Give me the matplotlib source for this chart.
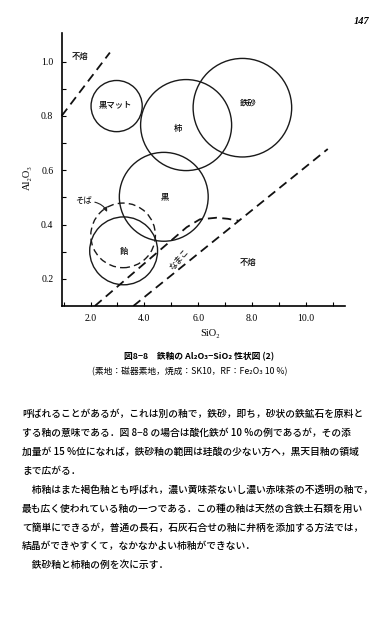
import matplotlib
matplotlib.use("Agg")
import matplotlib.pyplot as plt
from matplotlib.patches import Ellipse

plt.rcParams['font.family'] = ['Noto Sans CJK JP', 'DejaVu Sans']

# glaze regions: centre (SiO2, Al2O3) and radius in SiO2 units
region_names = ['黒マット', '柿', '鉄砂', '黒', '飴', 'そば']
region_x = [2.97, 5.55, 7.64, 4.72, 3.23, 3.21]
region_y = [0.836, 0.766, 0.830, 0.502, 0.303, 0.360]
region_r = [0.95, 1.69, 1.83, 1.65, 1.26, 1.20]
region_dashed = [False, False, False, False, False, True]

# label positions (some sit off-centre in the original)
label_x = [2.94, 5.26, 7.86, 4.76, 3.25]
label_y = [0.840, 0.752, 0.846, 0.502, 0.300]

# boundary lines
upper_x = [0.93, 2.72]
upper_y = [0.80, 1.033]
nameko_x = [2.16, 5.57, 6.06, 6.68, 7.10, 7.49]
nameko_y = [0.10, 0.390, 0.419, 0.425, 0.421, 0.414]
lower_x = [3.59, 10.81]
lower_y = [0.10, 0.678]

x_ticks = [2.0, 4.0, 6.0, 8.0, 10.0]
y_ticks = [0.2, 0.4, 0.6, 0.8, 1.0]

caption1 = '図8−8　鉄釉の Al₂O₃−SiO₂ 性状図 (2)'
caption2 = '(素地：磁器素地，焼成：SK10，RF：Fe₂O₃ 10 %)'
body = [
    '呼ばれることがあるが，これは別の釉で，鉄砂，即ち，砂状の鉄鉱石を原料と',
    'する釉の意味である．図 8−8 の場合は酸化鉄が 10 %の例であるが，その添',
    '加量が 15 %位になれば，鉄砂釉の範囲は珪酸の少ない方へ，黒天目釉の領域',
    'まで広がる．',
    '　柿釉はまた褐色釉とも呼ばれ，濃い黄味茶ないし濃い赤味茶の不透明の釉で，',
    '最も広く使われている釉の一つである．この種の釉は天然の含鉄土石類を用い',
    'て簡単にできるが，普通の長石，石灰石合せの釉に弁柄を添加する方法では，',
    '結晶ができやすくて，なかなかよい柿釉ができない．',
    '　鉄砂釉と柿釉の例を次に示す．',
]

W, H = 390, 620
fig = plt.figure(figsize=(W / 100, H / 100), dpi=100)
ax = fig.add_axes([61.7 / W, 1 - 306 / H, (345 - 61.7) / W, (306 - 33) / H])
ax.set_xlim(0.93, 11.45)
ax.set_ylim(0.10, 1.105)

for s in ['top', 'right']:
    ax.spines[s].set_visible(False)
for s in ['left', 'bottom']:
    ax.spines[s].set_linewidth(1.2)

serif = 'Liberation Serif'
ax.set_xticks(x_ticks)
ax.set_xticklabels([f'{v:.1f}' for v in x_ticks], family=serif, fontsize=7)
ax.set_xticks([1, 3, 5, 7, 9, 11], minor=True)
ax.set_yticks(y_ticks)
ax.set_yticklabels([f'{v:.1f}' for v in y_ticks], family=serif, fontsize=7)
ax.set_yticks([0.3, 0.5, 0.7, 0.9], minor=True)
ax.tick_params(which='both', direction='in', length=3, width=0.8, pad=6)

# keep circles round in screen space
box = ax.get_position()
px_x = box.width * W / (11.45 - 0.93)
px_y = box.height * H / (1.105 - 0.10)
k = px_x / px_y

for x, y, r, d in zip(region_x, region_y, region_r, region_dashed):
    e = Ellipse((x, y), 2 * r, 2 * r * k, fill=False, lw=1.0, color='#1a1a1a',
                linestyle=(0, (5, 3)) if d else '-')
    ax.add_patch(e)

for name, x, y in zip(region_names[:5], label_x, label_y):
    ax.text(x, y, name, fontsize=6, ha='center', va='center', weight='medium')

dash = (0, (5, 3))
ax.plot(upper_x, upper_y, color='#111111', lw=1.3, linestyle=dash, clip_on=False)
ax.plot(nameko_x, nameko_y, color='#111111', lw=1.3, linestyle=dash)
ax.plot(lower_x, lower_y, color='#111111', lw=1.3, linestyle=dash)

ax.text(1.63, 1.018, '不熔', fontsize=6, ha='center', va='center', weight='medium')
ax.text(7.86, 0.259, '不熔', fontsize=6, ha='center', va='center', weight='medium')
ax.text(5.28, 0.272, 'なまこ', fontsize=6, ha='center', va='center', rotation=48)
ax.text(1.73, 0.49, 'そば', fontsize=6, ha='center', va='center')
ax.annotate('', xy=(2.66, 0.437), xytext=(2.06, 0.484),
            arrowprops=dict(arrowstyle='-|>', lw=0.8, color='#222222',
                            mutation_scale=6, connectionstyle='arc3,rad=-0.3'))

fig.text(210 / W, 1 - 333 / H, 'SiO₂', family=serif, fontsize=7.5, ha='center', va='center')
fig.text(27 / W, 1 - 178 / H, 'Al₂O₃', family=serif, fontsize=7.5, ha='center', va='center',
         rotation=90)

fig.text(362 / W, 1 - 22 / H, '147', family=serif, fontsize=7.5, style='italic',
         weight='bold', ha='center', va='center')
fig.text(199 / W, 1 - 357 / H, caption1, fontsize=6.3, weight='bold', ha='center', va='center')
fig.text(190 / W, 1 - 372 / H, caption2, fontsize=6.3, ha='center', va='center')

for i, line in enumerate(body):
    fig.text(22 / W, 1 - (414 + 18.9 * i) / H, line, fontsize=7.0, ha='left', va='center',
             weight='medium')

fig.savefig('out.png', dpi=100, facecolor='white')
